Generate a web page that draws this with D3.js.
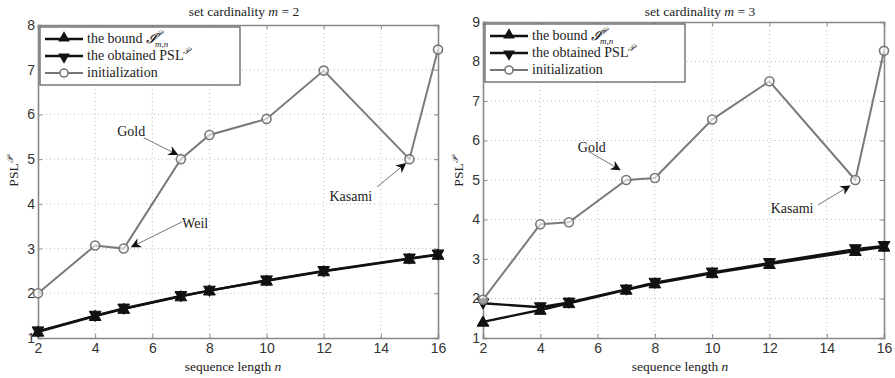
<!DOCTYPE html>
<html>
<head>
<meta charset="utf-8">
<script src="https://cdn.jsdelivr.net/npm/d3@7"></script>
<style>
  html, body { margin: 0; padding: 0; background: #fff; }
  svg { display: block; }
  .tick-label { font-family: "Liberation Sans", Arial, sans-serif; font-size: 14px; fill: #333; }
  .serif { font-family: "Liberation Serif", "Times New Roman", serif; fill: #222; }
</style>
</head>
<body>
<svg id="chart" width="895" height="378"></svg>
<script>
// PSL vs sequence length, two panels (m = 2, m = 3).

const nVals = [2, 4, 5, 7, 8, 10, 12, 15, 16];

const boundM2 = [1.14, 1.49, 1.65, 1.93, 2.06, 2.28, 2.49, 2.77, 2.86];
const obtainedM2 = [1.15, 1.5, 1.66, 1.94, 2.06, 2.29, 2.5, 2.78, 2.87];
const initM2 = [2.0, 3.07, 3.0, 5.0, 5.54, 5.9, 6.98, 5.0, 7.45];

const boundM3 = [1.41, 1.71, 1.88, 2.22, 2.38, 2.64, 2.87, 3.2, 3.31];
const obtainedM3 = [1.88, 1.78, 1.9, 2.23, 2.4, 2.66, 2.9, 3.25, 3.33];
const initM3 = [1.97, 3.88, 3.93, 5.0, 5.05, 6.53, 7.5, 5.0, 8.27];

const xTicks = [2, 4, 6, 8, 10, 12, 14, 16];
const yTicksM2 = [1, 2, 3, 4, 5, 6, 7, 8];
const yTicksM3 = [1, 2, 3, 4, 5, 6, 7, 8, 9];

// annotation: label, text centre, arrow tail, arrow head (all in data units)
const notesM2 = [
  { label: "Gold", tx: 5.26, ty: 5.62, ax: 5.7, ay: 5.48, bx: 6.88, by: 5.1 },
  { label: "Weil", tx: 7.5, ty: 3.55, ax: 7.05, ay: 3.6, bx: 5.28, by: 3.04 },
  { label: "Kasami", tx: 12.95, ty: 4.17, ax: 13.87, ay: 4.38, bx: 14.86, by: 4.9 },
];
const notesM3 = [
  { label: "Gold", tx: 5.8, ty: 5.83, ax: 5.67, ay: 5.73, bx: 6.78, by: 5.26 },
  { label: "Kasami", tx: 12.79, ty: 4.28, ax: 13.7, ay: 4.37, bx: 14.8, by: 4.85 },
];

const svg = d3.select("#chart");

const defs = svg.append("defs");
defs.append("marker")
  .attr("id", "arrowhead")
  .attr("viewBox", "0 0 10 10")
  .attr("refX", 9)
  .attr("refY", 5)
  .attr("markerWidth", 10)
  .attr("markerHeight", 10)
  .attr("markerUnits", "userSpaceOnUse")
  .attr("orient", "auto")
  .append("path")
  .attr("d", "M0,0 L10,5 L0,10 L3,5 Z")
  .attr("fill", "#111");

const upTri = d3.symbol().type(d3.symbolTriangle).size(60);

function panel(cfg) {
  const x = d3.scaleLinear().domain([2, 16]).range([cfg.left, cfg.right]);
  const y = d3.scaleLinear().domain([1, cfg.ymax]).range([cfg.bottom, cfg.top]);
  const g = svg.append("g");

  // dotted grid
  g.append("g").selectAll("line").data(xTicks.slice(1, -1)).join("line")
    .attr("x1", (d) => x(d)).attr("x2", (d) => x(d))
    .attr("y1", cfg.top).attr("y2", cfg.bottom)
    .attr("stroke", "#bbb").attr("stroke-width", 1).attr("stroke-dasharray", "1,3");
  g.append("g").selectAll("line").data(cfg.yTicks.slice(1, -1)).join("line")
    .attr("x1", cfg.left).attr("x2", cfg.right)
    .attr("y1", (d) => y(d)).attr("y2", (d) => y(d))
    .attr("stroke", "#bbb").attr("stroke-width", 1).attr("stroke-dasharray", "1,3");

  // axes (inward ticks, matlab style)
  const xAxis = g.append("g").attr("transform", `translate(0,${cfg.bottom})`)
    .call(d3.axisBottom(x).tickValues(xTicks).tickSize(-4).tickPadding(5).tickFormat(d3.format("d")));
  const xTop = g.append("g").attr("transform", `translate(0,${cfg.top})`)
    .call(d3.axisTop(x).tickValues(xTicks).tickSize(-4).tickFormat(""));
  const yAxis = g.append("g").attr("transform", `translate(${cfg.left},0)`)
    .call(d3.axisLeft(y).tickValues(cfg.yTicks).tickSize(-4).tickPadding(3).tickFormat(d3.format("d")));
  const yRight = g.append("g").attr("transform", `translate(${cfg.right},0)`)
    .call(d3.axisRight(y).tickValues(cfg.yTicks).tickSize(-4).tickFormat(""));
  [xAxis, xTop, yAxis, yRight].forEach((a) => {
    a.select(".domain").attr("stroke", "#888").attr("stroke-width", 1.6);
    a.selectAll(".tick line").attr("stroke", "#888");
    a.selectAll(".tick text").attr("class", "tick-label").attr("fill", null);
  });

  // series
  const line = d3.line().x((d) => x(d[0])).y((d) => y(d[1]));
  const pts = (vals) => nVals.map((n, i) => [n, vals[i]]);

  g.append("path").datum(pts(cfg.init)).attr("d", line)
    .attr("fill", "none").attr("stroke", "#7a7a7a").attr("stroke-width", 2);
  g.append("path").datum(pts(cfg.bound)).attr("d", line)
    .attr("fill", "none").attr("stroke", "#111").attr("stroke-width", 2.4);
  g.append("path").datum(pts(cfg.obtained)).attr("d", line)
    .attr("fill", "none").attr("stroke", "#111").attr("stroke-width", 2.4);

  g.append("g").selectAll("path").data(pts(cfg.bound)).join("path")
    .attr("d", upTri)
    .attr("transform", (d) => `translate(${x(d[0])},${y(d[1]) + 1})`)
    .attr("fill", "#111").attr("stroke", "#111").attr("stroke-width", 1);
  g.append("g").selectAll("path").data(pts(cfg.obtained)).join("path")
    .attr("d", upTri)
    .attr("transform", (d) => `translate(${x(d[0])},${y(d[1]) - 1}) rotate(180)`)
    .attr("fill", "#111").attr("stroke", "#111").attr("stroke-width", 1);
  g.append("g").selectAll("circle").data(pts(cfg.init)).join("circle")
    .attr("cx", (d) => x(d[0])).attr("cy", (d) => y(d[1])).attr("r", 4.5)
    .attr("fill", "#fff").attr("fill-opacity", 0.6)
    .attr("stroke", "#777").attr("stroke-width", 1.6);

  // annotations
  cfg.notes.forEach((a) => {
    g.append("line")
      .attr("x1", x(a.ax)).attr("y1", y(a.ay))
      .attr("x2", x(a.bx)).attr("y2", y(a.by))
      .attr("stroke", "#777").attr("stroke-width", 1)
      .attr("marker-end", "url(#arrowhead)");
    g.append("text").attr("class", "serif")
      .attr("x", x(a.tx)).attr("y", y(a.ty))
      .attr("text-anchor", "middle").attr("dominant-baseline", "central")
      .attr("font-size", 14).text(a.label);
  });

  // title
  const title = g.append("text").attr("class", "serif")
    .attr("x", cfg.titleX).attr("y", 16).attr("text-anchor", "middle")
    .attr("font-size", 13.5);
  title.append("tspan").text("set cardinality ");
  title.append("tspan").attr("font-style", "italic").text("m");
  title.append("tspan").text(` = ${cfg.m}`);

  // x label
  const xl = g.append("text").attr("class", "serif")
    .attr("x", cfg.xLabelX).attr("y", 371).attr("text-anchor", "middle")
    .attr("font-size", 13.5);
  xl.append("tspan").text("sequence length ");
  xl.append("tspan").attr("font-style", "italic").text("n");

  // y label
  const yl = g.append("text").attr("class", "serif")
    .attr("transform", `translate(${cfg.left - 20},172) rotate(-90)`)
    .attr("text-anchor", "middle").attr("font-size", 13.5);
  yl.append("tspan").text("PSL");
  yl.append("tspan").attr("dy", -5).attr("font-size", 9).attr("font-style", "italic").text("𝒫");

  // legend
  const lg = g.append("g").attr("transform", `translate(${cfg.left + 2},${cfg.top + 2})`);
  lg.append("rect").attr("width", 200).attr("height", 58)
    .attr("fill", "#fff").attr("stroke", "#555").attr("stroke-width", 1.2);
  const rows = [
    { kind: "up", color: "#111" },
    { kind: "down", color: "#111" },
    { kind: "circle", color: "#777" },
  ];
  rows.forEach((r, i) => {
    const ry = 12 + i * 17;
    const row = lg.append("g").attr("transform", `translate(0,${ry})`);
    row.append("line").attr("x1", 5).attr("x2", 43).attr("y1", 0).attr("y2", 0)
      .attr("stroke", r.color).attr("stroke-width", r.kind === "circle" ? 2 : 2.4);
    if (r.kind === "circle") {
      row.append("circle").attr("cx", 24).attr("cy", 0).attr("r", 4)
        .attr("fill", "#fff").attr("stroke", "#777").attr("stroke-width", 1.6);
    } else {
      row.append("path").attr("d", upTri)
        .attr("transform", `translate(24,${r.kind === "up" ? -1 : 1})${r.kind === "down" ? " rotate(180)" : ""}`)
        .attr("fill", "#111");
    }
  });
  const t1 = lg.append("text").attr("class", "serif").attr("x", 47).attr("y", 16).attr("font-size", 14);
  t1.append("tspan").text("the bound ");
  t1.append("tspan").attr("font-style", "italic").text("𝓘");
  t1.append("tspan").attr("dy", -6).attr("font-size", 9).attr("font-style", "italic").text("𝒫");
  t1.append("tspan").attr("dx", -6).attr("dy", 10).attr("font-size", 9).attr("font-style", "italic").text("m,n");
  const t2 = lg.append("text").attr("class", "serif").attr("x", 47).attr("y", 33).attr("font-size", 14);
  t2.append("tspan").text("the obtained PSL");
  t2.append("tspan").attr("dy", -6).attr("font-size", 9).attr("font-style", "italic").text("𝒫");
  lg.append("text").attr("class", "serif").attr("x", 47).attr("y", 50).attr("font-size", 14)
    .text("initialization");
}

panel({
  m: 2, left: 38, right: 438, top: 25, bottom: 338, ymax: 8, yTicks: yTicksM2,
  bound: boundM2, obtained: obtainedM2, init: initM2, notes: notesM2,
  titleX: 244, xLabelX: 233,
});
panel({
  m: 3, left: 483, right: 884, top: 22, bottom: 338, ymax: 9, yTicks: yTicksM3,
  bound: boundM3, obtained: obtainedM3, init: initM3, notes: notesM3,
  titleX: 700, xLabelX: 680,
});
</script>
</body>
</html>
